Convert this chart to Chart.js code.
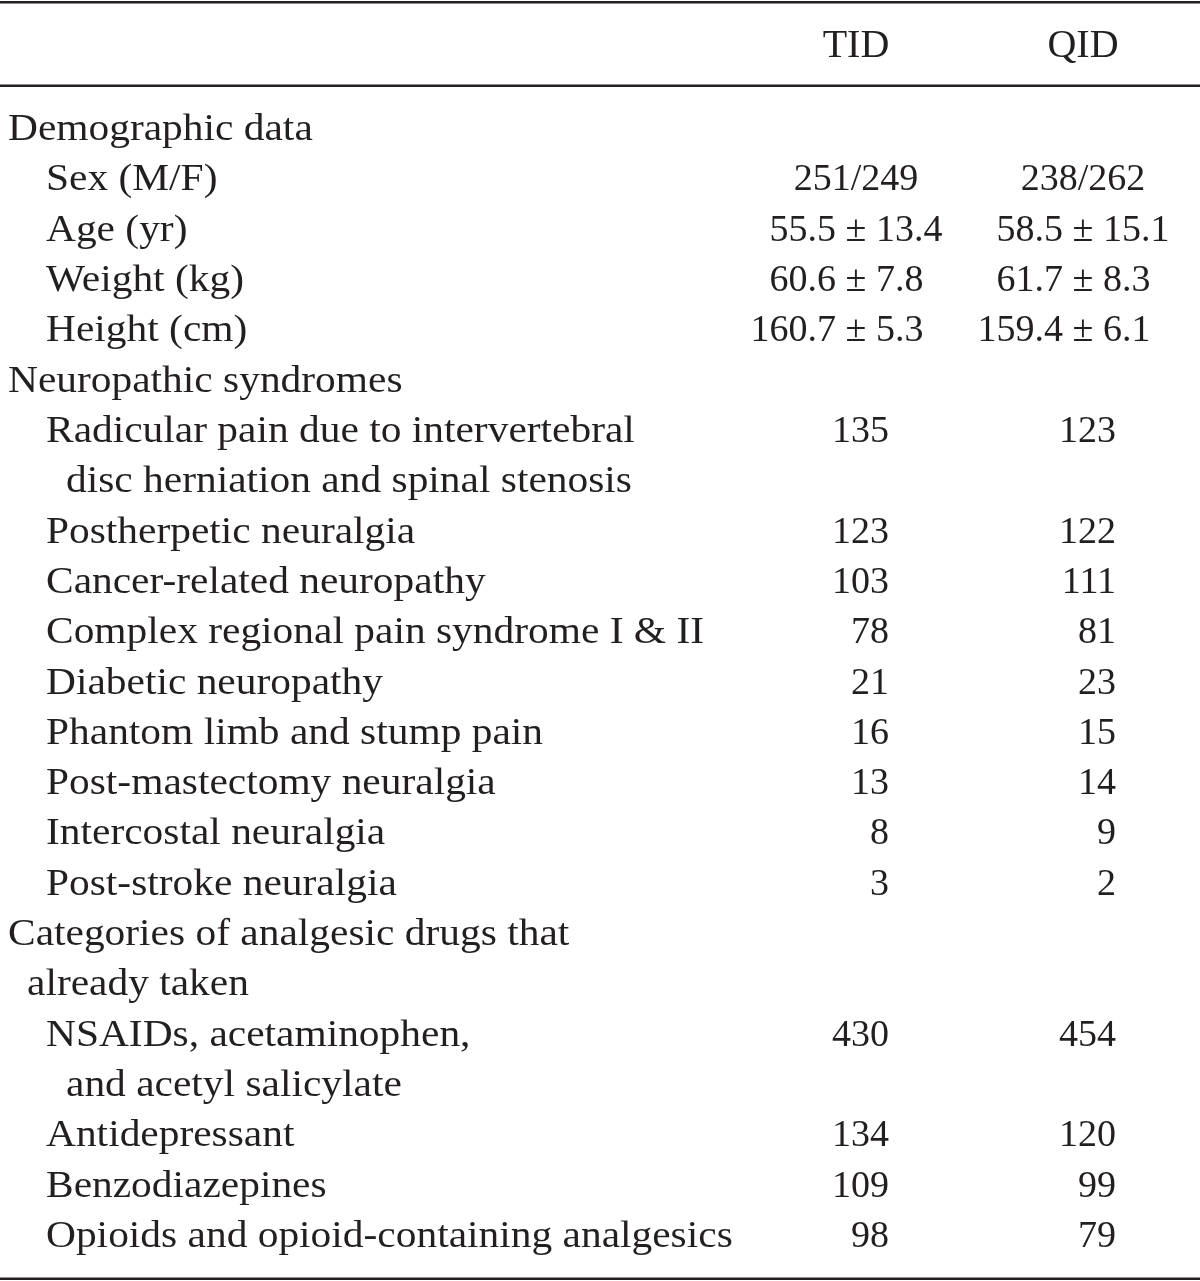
<!DOCTYPE html>
<html><head><meta charset="utf-8">
<script src="https://cdn.jsdelivr.net/npm/chart.js@4/dist/chart.umd.min.js"></script>
<style>html,body{margin:0;padding:0;background:#fff}canvas{display:block}</style>
</head><body>
<canvas id="c" width="1200" height="1281"></canvas>
<script>
// ---- data ----
const columns = ['TID', 'QID'];
const rowLabels = [
  'Demographic data',
  'Sex (M/F)',
  'Age (yr)',
  'Weight (kg)',
  'Height (cm)',
  'Neuropathic syndromes',
  'Radicular pain due to intervertebral',
  'disc herniation and spinal stenosis',
  'Postherpetic neuralgia',
  'Cancer-related neuropathy',
  'Complex regional pain syndrome I & II',
  'Diabetic neuropathy',
  'Phantom limb and stump pain',
  'Post-mastectomy neuralgia',
  'Intercostal neuralgia',
  'Post-stroke neuralgia',
  'Categories of analgesic drugs that',
  'already taken',
  'NSAIDs, acetaminophen,',
  'and acetyl salicylate',
  'Antidepressant',
  'Benzodiazepines',
  'Opioids and opioid-containing analgesics'
];
const rowKinds = [
  'section','item','item','item','item',
  'section','item','itemCont','item','item','item','item','item','item','item','item',
  'section','sectionCont','item','itemCont','item','item','item'
];
const tidValues = ['', '251/249', '55.5 ± 13.4', '60.6 ± 7.8', '160.7 ± 5.3',
  '', '135', '', '123', '103', '78', '21', '16', '13', '8', '3',
  '', '', '430', '', '134', '109', '98'];
const qidValues = ['', '238/262', '58.5 ± 15.1', '61.7 ± 8.3', '159.4 ± 6.1',
  '', '123', '', '122', '111', '81', '23', '15', '14', '9', '2',
  '', '', '454', '', '120', '99', '79'];
const seriesValues = [tidValues, qidValues];

// ---- style ----
const FAMILY = '"Liberation Serif", "DejaVu Serif", serif';
const BODY_FONT = '38px ' + FAMILY;
const HEAD_FONT = '40px ' + FAMILY;
const LABEL_STRETCH = 1.09;
const INK = '#231f20';
const indentFor = {section: 8, sectionCont: 27, item: 46, itemCont: 66};

const tablePlugin = {
  id: 'tableText',
  afterDatasetsDraw(chart) {
    const ctx = chart.ctx;
    const ys = chart.scales.y, xs = chart.scales.x;
    const area = chart.chartArea;
    ctx.save();
    ctx.fillStyle = INK;
    ctx.textBaseline = 'alphabetic';
    const base = 10;
    // rules
    ctx.fillRect(0, 1, chart.width, 2.5);
    ctx.fillRect(0, 84.5, chart.width, 2.5);
    ctx.fillRect(0, 1277.5, chart.width, 2.5);
    // header
    ctx.font = HEAD_FONT;
    ctx.textAlign = 'center';
    columns.forEach((c, i) => {
      ctx.fillText(c, xs.getPixelForValue(i), 57);
    });
    // row labels (slightly widened to match the original typeface)
    ctx.font = BODY_FONT;
    ctx.textAlign = 'left';
    rowLabels.forEach((lab, i) => {
      ctx.save();
      ctx.scale(LABEL_STRETCH, 1);
      ctx.fillText(lab, indentFor[rowKinds[i]] / LABEL_STRETCH, ys.getPixelForValue(i) + base);
      ctx.restore();
    });
    // values via dataset elements
    chart.data.datasets.forEach((ds, di) => {
      const meta = chart.getDatasetMeta(di);
      meta.data.forEach((el, j) => {
        const raw = ds.data[j];
        const txt = raw.text;
        const x = el.x, y = el.y + base;
        if (txt.includes('±')) {
          const k = txt.indexOf('±');
          const left = txt.slice(0, k);
          const pmW = ctx.measureText('±').width;
          ctx.textAlign = 'right';
          ctx.fillText(left, x - pmW / 2, y);
          ctx.textAlign = 'center';
          ctx.fillText('±', x, y);
          ctx.textAlign = 'left';
          ctx.fillText(txt.slice(k + 1), x + pmW / 2, y);
        } else if (txt.includes('/')) {
          ctx.textAlign = 'center';
          ctx.fillText(txt, x, y);
        } else {
          ctx.textAlign = 'right';
          ctx.fillText(txt, x + 33, y);
        }
      });
    });
    ctx.restore();
  }
};

new Chart(document.getElementById('c'), {
  type: 'scatter',
  data: {
    datasets: seriesValues.map((vals, ci) => ({
      label: columns[ci],
      data: vals.map((v, r) => ({x: ci, y: rowLabels[r], text: v})).filter(p => p.text),
      pointRadius: 0,
      pointHoverRadius: 0
    }))
  },
  options: {
    responsive: false,
    animation: false,
    events: [],
    layout: {padding: {left: 856, right: 117, top: 130, bottom: 44}},
    plugins: {legend: {display: false}, tooltip: {enabled: false}},
    scales: {
      x: {type: 'linear', min: 0, max: 1, display: false},
      y: {type: 'category', labels: rowLabels, offset: false, display: false}
    }
  },
  plugins: [tablePlugin]
});
</script>
</body></html>
